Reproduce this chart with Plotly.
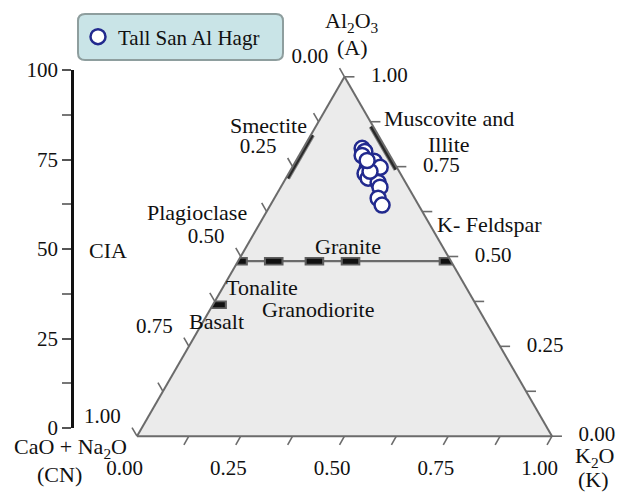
import math
import plotly.graph_objects as go

# ---------------- data (molar proportions, A + CN + K = 1) ----------------
sample_name = "Tall San Al Hagr"
sample_A = [0.801, 0.792, 0.781, 0.765, 0.745, 0.748, 0.731, 0.718, 0.706, 0.693, 0.662, 0.643, 0.737, 0.767]
sample_K = [0.142, 0.153, 0.152, 0.189, 0.182, 0.212, 0.184, 0.198, 0.228, 0.239, 0.250, 0.269, 0.193, 0.171]
sample_CN = [round(1 - a - k, 3) for a, k in zip(sample_A, sample_K)]

# reference rock / mineral compositions
rock_names = ["Plagioclase", "Tonalite", "Granodiorite", "Granite", "K- Feldspar", "Basalt"]
rock_A = [0.487, 0.487, 0.487, 0.487, 0.487, 0.366]
rock_K = [0.000, 0.086, 0.184, 0.271, 0.507, 0.010]
rock_CN = [round(1 - a - k, 3) for a, k in zip(rock_A, rock_K)]

# feldspar join (plagioclase -> K-feldspar)
join_A = [0.487, 0.487]
join_K = [0.000, 0.513]
join_CN = [round(1 - a - k, 3) for a, k in zip(join_A, join_K)]

# clay mineral fields
smectite_A = [0.718, 0.838]
smectite_K = [0.004, 0.004]
smectite_CN = [round(1 - a - k, 3) for a, k in zip(smectite_A, smectite_K)]

musc_A = [0.862, 0.742]
musc_CN = [0.005, 0.005]
musc_K = [round(1 - a - c, 3) for a, c in zip(musc_A, musc_CN)]

# axis ticks
tern_ticks = [0, 0.125, 0.25, 0.375, 0.5, 0.625, 0.75, 0.875, 1.0]
tern_labels = [0, 0.25, 0.5, 0.75, 1.0]
cia_range = [0, 100]

# ---------------- styling ----------------
W, H = 618, 492
FONT = "Liberation Serif, Times New Roman, serif"
FS = 22
TFS = 21
EDGE = "#6b6b6b"
NAVY = "#222a8e"
TICK_D = 0.024          # tick length (fraction of side)
# tick-label offsets (dA, dCN, dK) for each edge
OFF_LEFT = (0.0526, 0.0571, -0.1097)
OFF_BOTTOM = (-0.0946, 0.0774, 0.0172)
OFF_RIGHT = (0.0, -0.1084, 0.1084)

TERN_DOM_X = [137 / W, 552 / W]
TERN_DOM_Y = [1 - 437 / H, 1 - 76 / H]


def px(x, y):
    return x / W, 1 - y / H


# geometry of plotly's equilateral triangle inside the ternary domain
_s3 = math.sqrt(3)
tri_w = min((TERN_DOM_X[1] - TERN_DOM_X[0]) * W, (TERN_DOM_Y[1] - TERN_DOM_Y[0]) * H * 2 / _s3)
tri_h = tri_w * _s3 / 2
tri_x0 = (TERN_DOM_X[0] + TERN_DOM_X[1]) / 2 * W - tri_w / 2
tri_yb = (1 - (TERN_DOM_Y[0] + TERN_DOM_Y[1]) / 2) * H + tri_h / 2
# overlay cartesian axes (full paper) in triangle units: x = K + A/2, y = A
ov_xrange = [(0 - tri_x0) / tri_w, (W - tri_x0) / tri_w]
ov_yrange = [(tri_yb - H) / tri_h, tri_yb / tri_h]


def tern_xy(a, cn, k):
    if a is None:
        return None, None
    return k + a / 2, a


fig = go.Figure()

# ---- ternary ticks (outside the triangle), on the overlay axes ----
tick_pts = []
for v in tern_ticks:                       # left edge: CN = v, K = 0
    tick_pts += [(1 - v, v, 0), (1 - v + TICK_D, v, -TICK_D), (None, None, None)]
for v in tern_ticks[1:]:                   # bottom edge: K = v, A = 0
    tick_pts += [(0, 1 - v, v), (-TICK_D, 1 - v + TICK_D, v), (None, None, None)]
for v in tern_ticks:                       # right edge: A = v, CN = 0
    tick_pts += [(v, 0, 1 - v), (v, -TICK_D, 1 - v + TICK_D), (None, None, None)]
tx, ty = zip(*[tern_xy(*p) for p in tick_pts])
fig.add_trace(go.Scatter(x=tx, y=ty, xaxis="x2", yaxis="y2", mode="lines",
                         line=dict(color=EDGE, width=1.6), showlegend=False,
                         hoverinfo="skip", connectgaps=False))

# ---- ternary tick labels ----
lab_pts, lab_txt = [], []
for v in tern_labels:
    lab_pts.append((1 - v + OFF_LEFT[0], v + OFF_LEFT[1], OFF_LEFT[2]))
    lab_txt.append(f"{v:.2f}")
for v in tern_labels:
    lab_pts.append((OFF_BOTTOM[0], 1 - v + OFF_BOTTOM[1], v + OFF_BOTTOM[2]))
    lab_txt.append(f"{v:.2f}")
for v in tern_labels:
    lab_pts.append((v + OFF_RIGHT[0], OFF_RIGHT[1], 1 - v + OFF_RIGHT[2]))
    lab_txt.append(f"{v:.2f}")
lx, ly = zip(*[tern_xy(*p) for p in lab_pts])
fig.add_trace(go.Scatter(x=lx, y=ly, xaxis="x2", yaxis="y2", mode="text", text=lab_txt,
                         textposition="middle center", cliponaxis=False,
                         textfont=dict(family=FONT, size=TFS, color="#111"),
                         showlegend=False, hoverinfo="skip"))

# feldspar join
fig.add_trace(go.Scatterternary(a=join_A, b=join_CN, c=join_K, mode="lines",
                                line=dict(color=EDGE, width=2.2), showlegend=False,
                                hoverinfo="skip"))
# clay fields
for aa, bb, cc in [(smectite_A, smectite_CN, smectite_K), (musc_A, musc_CN, musc_K)]:
    fig.add_trace(go.Scatterternary(a=aa, b=bb, c=cc, mode="lines",
                                    line=dict(color="#808080", width=5), showlegend=False,
                                    hoverinfo="skip"))
    fig.add_trace(go.Scatterternary(a=aa, b=bb, c=cc, mode="lines",
                                    line=dict(color="#2a2a2a", width=3), showlegend=False,
                                    hoverinfo="skip"))

# rock markers (small rectangles)
fig.add_trace(go.Scatterternary(a=rock_A, b=rock_CN, c=rock_K, mode="markers", text=rock_names,
                                marker=dict(symbol="line-ew", size=14,
                                            line=dict(color="#5e5e5e", width=8.5)),
                                showlegend=False, hoverinfo="text"))
fig.add_trace(go.Scatterternary(a=rock_A, b=rock_CN, c=rock_K, mode="markers", text=rock_names,
                                marker=dict(symbol="line-ew", size=11,
                                            line=dict(color="#111111", width=5)),
                                showlegend=False, hoverinfo="text"))

# samples
fig.add_trace(go.Scatterternary(a=sample_A, b=sample_CN, c=sample_K, mode="markers",
                                name=sample_name,
                                marker=dict(symbol="circle", size=15, color="white",
                                            line=dict(color=NAVY, width=2.5))))

# dummy cartesian trace so the CIA axis is drawn
fig.add_trace(go.Scatter(x=[], y=[], showlegend=False, hoverinfo="skip"))

tern_axis = dict(ticks="", showticklabels=False, linecolor=EDGE, linewidth=2,
                 showgrid=False, title=dict(text=""))

annotations = []


def ann(text, x, y, size=FS, xanchor="center"):
    xx, yy = px(x, y)
    annotations.append(dict(text=text, x=xx, y=yy, xref="paper", yref="paper",
                            showarrow=False, xanchor=xanchor, yanchor="middle",
                            font=dict(family=FONT, size=size, color="#111")))


# axis titles
ann("Al<sub>2</sub>O<sub>3</sub>", 352, 22)
ann("(A)", 352, 48)
ann("CaO + Na<sub>2</sub>O", 70, 448)
ann("(CN)", 59, 474)
ann("K<sub>2</sub>O", 594, 457)
ann("(K)", 593, 479)
# field labels
ann("Smectite", 268, 125)
ann("Muscovite and", 449, 118)
ann("Illite", 449, 145)
ann("Plagioclase", 197, 212)
ann("Granite", 348, 246)
ann("K- Feldspar", 489, 224)
ann("Tonalite", 262, 287)
ann("Granodiorite", 318, 309)
ann("Basalt", 216, 321)
ann("CIA", 108, 250)

# rounded legend box
bx0, by0 = px(78, 14)
bx1, by1 = px(283, 60)
rx, ry = 7 / W, 7 / H
legend_path = (f"M {bx0 + rx},{by0} L {bx1 - rx},{by0} Q {bx1},{by0} {bx1},{by0 - ry} "
               f"L {bx1},{by1 + ry} Q {bx1},{by1} {bx1 - rx},{by1} "
               f"L {bx0 + rx},{by1} Q {bx0},{by1} {bx0},{by1 + ry} "
               f"L {bx0},{by0 - ry} Q {bx0},{by0} {bx0 + rx},{by0} Z")

lgx, lgy = px(78, 37)

fig.update_layout(
    width=W, height=H,
    margin=dict(l=0, r=0, t=0, b=0, autoexpand=False),
    paper_bgcolor="white", plot_bgcolor="rgba(0,0,0,0)",
    font=dict(family=FONT, size=FS, color="#111"),
    ternary=dict(
        sum=1,
        domain=dict(x=TERN_DOM_X, y=TERN_DOM_Y),
        bgcolor="#ebebeb",
        aaxis=tern_axis, baxis=tern_axis, caxis=tern_axis,
    ),
    xaxis=dict(domain=[74 / W, 0.2], range=[0, 1], visible=False),
    yaxis=dict(domain=[1 - 428 / H, 1 - 70 / H], range=cia_range, anchor="x",
               tickmode="linear", tick0=0, dtick=25,
               ticks="outside", ticklen=9, tickwidth=2, tickcolor="#555",
               minor=dict(ticks="outside", dtick=12.5, ticklen=9, tickwidth=2, tickcolor="#777"),
               showline=True, linecolor="#111", linewidth=2.5,
               showgrid=False, zeroline=False,
               tickfont=dict(family=FONT, size=TFS, color="#111")),
    xaxis2=dict(domain=[0, 1], range=ov_xrange, anchor="y2", visible=False, fixedrange=True),
    yaxis2=dict(domain=[0, 1], range=ov_yrange, anchor="x2", visible=False, fixedrange=True),
    legend=dict(x=lgx, y=lgy, xanchor="left", yanchor="middle",
                bgcolor="rgba(0,0,0,0)", borderwidth=0,
                font=dict(family=FONT, size=21, color="#111")),
    shapes=[dict(type="path", path=legend_path, xref="paper", yref="paper",
                 fillcolor="#c9e4e7", line=dict(color="#8e9e9e", width=2), layer="below")],
    annotations=annotations,
    showlegend=True,
)

fig.write_html("out.html")
